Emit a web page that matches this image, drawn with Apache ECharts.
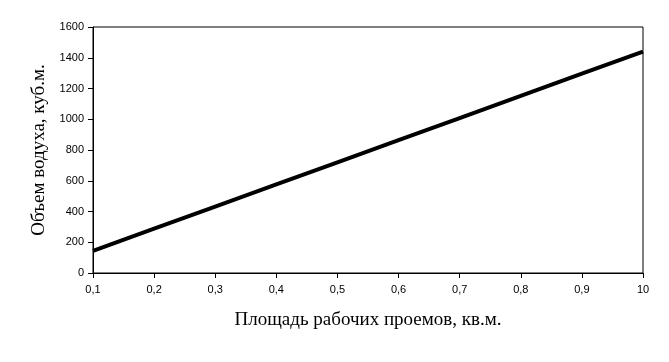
<!DOCTYPE html>
<html>
<head>
<meta charset="utf-8">
<script src="https://cdn.jsdelivr.net/npm/echarts@6/dist/echarts.min.js"></script>
<style>html,body{margin:0;padding:0;background:#fff}#c{width:669px;height:362px}</style>
</head>
<body>
<div id="c"></div>
<script>
var categories = ['0,1','0,2','0,3','0,4','0,5','0,6','0,7','0,8','0,9','10'];
var airVolume = [144, 288, 432, 576, 720, 864, 1008, 1152, 1296, 1440];
var yMin = 0, yMax = 1600, yStep = 200;

var chart = echarts.init(document.getElementById('c'), null, {renderer: 'canvas'});
chart.setOption({
  backgroundColor: '#fff',
  animation: false,
  grid: {left: 93, right: 26, top: 27, bottom: 89, show: true, borderColor: '#000', borderWidth: 1, backgroundColor: 'transparent'},
  xAxis: {
    type: 'category', data: categories, boundaryGap: false,
    name: 'Площадь рабочих проемов, кв.м.', nameLocation: 'middle', nameGap: 38,
    nameTextStyle: {fontFamily: 'Liberation Serif', fontSize: 19, color: '#000'},
    axisLine: {lineStyle: {color: '#000', width: 1}},
    axisTick: {show: true, inside: false, length: 5, lineStyle: {color: '#000'}, alignWithLabel: true},
    axisLabel: {fontFamily: 'Liberation Sans', fontSize: 11, color: '#000', margin: 11, interval: 0},
    splitLine: {show: false}
  },
  yAxis: {
    type: 'value', min: yMin, max: yMax, interval: yStep,
    name: 'Объем водуха, куб.м.', nameLocation: 'middle', nameGap: 38,
    nameTextStyle: {fontFamily: 'Liberation Serif', fontSize: 19, color: '#000'},
    axisLine: {show: true, lineStyle: {color: '#000', width: 1}},
    axisTick: {show: true, inside: false, length: 5, lineStyle: {color: '#000'}},
    axisLabel: {fontFamily: 'Liberation Sans', fontSize: 11, color: '#000', margin: 9, formatter: function (v) { return String(v); }},
    splitLine: {show: false}
  },
  series: [{
    type: 'line', data: airVolume, symbol: 'none',
    lineStyle: {color: '#000', width: 4}
  }]
});
</script>
</body>
</html>
